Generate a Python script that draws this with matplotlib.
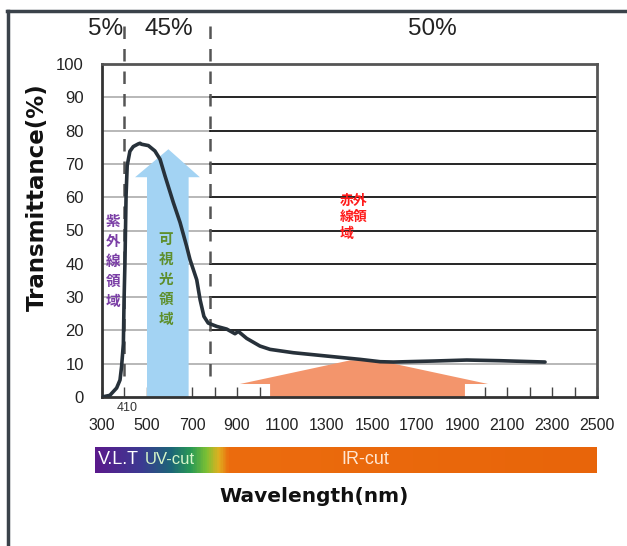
import matplotlib
matplotlib.use("Agg")
import matplotlib.pyplot as plt
from matplotlib.lines import Line2D
from matplotlib.colors import LinearSegmentedColormap
import numpy as np

# ---- data ----
wavelength = [300, 335, 365, 380, 387, 395, 398, 402, 407, 412, 424, 439, 461,
              469, 476, 506, 535, 558, 580, 617, 647, 676, 691, 721, 736, 753,
              772, 810, 854, 891, 906, 943, 1002, 1047, 1150, 1298, 1447, 1536,
              1595, 1773, 1921, 2069, 2269]
transmittance = [0, 0.5, 2.7, 5.1, 9.1, 16, 29, 40.4, 60.5, 69.5, 73.8, 75.2, 76.0,
                 76.2, 75.9, 75.5, 73.9, 71.4, 66.4, 58.4, 52.4, 45.3, 41.3, 35.2, 29.2, 24.2,
                 22.2, 21.2, 20.4, 19.0, 19.7, 17.6, 15.3, 14.3, 13.3, 12.3, 11.3, 10.6,
                 10.5, 10.8, 11.1, 10.9, 10.5]
x_ticks = [300, 500, 700, 900, 1100, 1300, 1500, 1700, 1900, 2100, 2300, 2500]
y_ticks = [0, 10, 20, 30, 40, 50, 60, 70, 80, 90, 100]
region_bounds = [400, 780]
region_labels = ["5%", "45%", "50%"]
region_label_x = [318, 595, 1770]
band_labels = ["V.L.T", "UV-cut", "IR-cut"]

cjk = ["Noto Sans CJK JP", "DejaVu Sans"]
sans = ["Liberation Sans", "DejaVu Sans"]

fig = plt.figure(figsize=(6.27, 5.46), dpi=100)
fig.patch.set_facecolor("white")

ax = fig.add_axes([102/627, 1-397/546, 495/627, 333/546])
ax.set_xlim(300, 2500)
ax.set_ylim(0, 100)

# grid lines
for v in y_ticks[1:-1]:
    ax.plot([300, region_bounds[1]], [v, v], color="#b8b8b8", lw=1.4, zorder=1)
    if v >= 20:
        ax.plot([region_bounds[1], 2500], [v, v], color="black", lw=1.2, zorder=1)
    else:
        ax.plot([region_bounds[1], 2500], [v, v], color="#b8b8b8", lw=1.4, zorder=1)

# blue arrow (visible range)
blue_x = [500, 500, 447, 595, 735, 685, 685]
blue_y = [0, 66, 66, 74.4, 66, 66, 0]
ax.fill(blue_x, blue_y, color="#a3d3f3", lw=0, zorder=2)

# orange arrow (IR range)
or_x = [1047, 1047, 913, 1402, 1527, 2016, 1913, 1913]
or_y = [0, 3.9, 3.9, 11.0, 11.0, 3.9, 3.9, 0]
ax.fill(or_x, or_y, color="#f3956c", lw=0, zorder=2)

# curve
ax.plot(wavelength, transmittance, color="#27313a", lw=2.6, zorder=5,
        solid_joinstyle="round", solid_capstyle="round")

# dashed region boundaries
for b in region_bounds:
    ax.plot([b, b], [111.5, 3.6], color="#555555", lw=1.8, ls=(0, (5, 4)),
            clip_on=False, zorder=4)

# region percentages
for lx, lab in zip(region_label_x, region_labels):
    ax.text(lx, 110.5, lab, ha="center", va="center", fontsize=17.5,
            family=sans, color="#222222", clip_on=False)

# axis styling
for s in ["left", "bottom"]:
    ax.spines[s].set_color("#333333")
    ax.spines[s].set_linewidth(2)
for s in ["top", "right"]:
    ax.spines[s].set_color("#555555")
    ax.spines[s].set_linewidth(2)
ax.set_xticks(x_ticks)
ax.set_xticks(list(range(300, 2501, 100)), minor=True)
ax.set_yticks(y_ticks)
ax.tick_params(axis="x", which="both", direction="in", length=7, width=1,
               color="#444444", pad=15, labelsize=11.5)
ax.tick_params(axis="y", length=0, pad=13, labelsize=12)
for lab in ax.get_xticklabels() + ax.get_yticklabels():
    lab.set_family(sans)
    lab.set_color("#222222")

ax.set_ylabel("Transmittance(%)", fontsize=16.5, fontweight="bold",
              family=["DejaVu Sans"], color="#111111")
ax.yaxis.set_label_coords(-0.108, 0.6)

# 410 label
ax.text(410, -3.4, "410", ha="center", va="center", fontsize=9, family=sans,
        color="#333333", clip_on=False)

# CJK labels
ax.text(350, 40.8, "紫\n外\n線\n領\n域", ha="center", va="center", fontsize=10.5,
        family=cjk, color="#7b3fa6", fontweight="bold", linespacing=1.3, zorder=6)
ax.text(585, 35.4, "可\n視\n光\n領\n域", ha="center", va="center", fontsize=10.5,
        family=cjk, color="#5e8f2c", fontweight="bold", linespacing=1.3, zorder=6)
ax.text(1355, 54, "赤外\n線領\n域", ha="left", va="center", fontsize=10,
        family=cjk, color="#ff1a1a", fontweight="bold", linespacing=1.25, zorder=6)

# colour band
cax = fig.add_axes([95/627, 1-473/546, 502/627, 26/546])
stops = [(0.0, "#5a1a8c"), (0.09, "#3c3a92"), (0.15, "#1d6678"),
         (0.19, "#2a9a55"), (0.22, "#7cc034"), (0.245, "#e0b020"),
         (0.265, "#ec6c0e"), (1.0, "#e8650a")]
cmap = LinearSegmentedColormap.from_list("band", stops)
cax.imshow(np.linspace(0, 1, 600)[None, :], aspect="auto", cmap=cmap,
           extent=[0, 1, 0, 1])
cax.set_axis_off()
cax.text(0.047, 0.5, band_labels[0], transform=cax.transAxes, ha="center",
         va="center", fontsize=13, family=sans, color="white")
cax.text(0.15, 0.5, band_labels[1], transform=cax.transAxes, ha="center",
         va="center", fontsize=12, family=sans, color="#d6f5c8")
cax.text(0.538, 0.5, band_labels[2], transform=cax.transAxes, ha="center",
         va="center", fontsize=13, family=sans, color="#ffe6d2")

fig.text(314/627, 1-496/546, "Wavelength(nm)", ha="center", va="center",
         fontsize=14.5, fontweight="bold", family=["DejaVu Sans"], color="#111111")

# outer frame lines (top and left)
fig.add_artist(Line2D([7/627, 1.0], [1-11/546, 1-11/546], color="#3a424a", lw=2.5))
fig.add_artist(Line2D([8/627, 8/627], [0, 1-11/546], color="#3a424a", lw=2.5))

fig.savefig("out.png", dpi=100)
